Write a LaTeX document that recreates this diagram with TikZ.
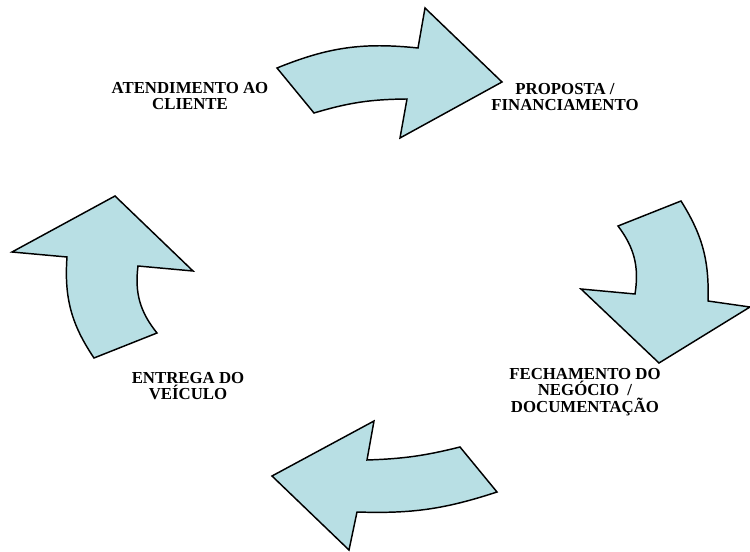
\documentclass[tikz,border=0pt]{standalone}
\usepackage{fontspec}
\setmainfont{Liberation Serif}
\usepackage{tikz}
\usepackage{xcolor}
\usetikzlibrary{positioning}
\definecolor{PaleCyan}{HTML}{B8DFE4}
\tikzset{
    blockarrow/.style={draw=black, fill=PaleCyan, line width=1.1pt, line join=miter},
    stagelabel/.style={align=center, inner sep=0pt,
                       font=\bfseries\fontsize{12.6}{12.6}\selectfont}
}

\begin{document}
\begin{tikzpicture}[x=0.75pt, y=-0.75pt]
    \useasboundingbox (0,0) rectangle (750,552);

    % Top arrow
    \draw[blockarrow] (277,68) to[bend left=14] (418,48) -- (425,8) -- (502,82)
        -- (400,138) -- (407,99) to[bend right=8] (314,113) -- cycle;
    % Right arrow
    \draw[blockarrow] (618,226) -- (681,201) to[bend left=17] (708,301) -- (750,307)
        -- (659,363) -- (581,289) -- (635,294) to[bend right=23] (618,226) -- cycle;
    % Bottom arrow
    \draw[blockarrow] (460,447) -- (497,492) to[bend left=10] (357,512) -- (349,550)
        -- (272,476) -- (374,421) -- (367,460) to[bend right=6] (460,447) -- cycle;
    % Left arrow
    \draw[blockarrow] (94,358) -- (157,333) to[bend left=23] (138,266) -- (193,271)
        -- (115,196) -- (12,252) -- (67,257) to[bend right=19] (94,358) -- cycle;

    % Stage labels
    \node[stagelabel] (atendimento) at (190,96) {ATENDIMENTO AO\\CLIENTE};
    \node[stagelabel] (proposta) at (565,97) {PROPOSTA /\\FINANCIAMENTO};
    \node[stagelabel] (fechamento) at (585,392) {FECHAMENTO DO\\NEGÓCIO \ /\\DOCUMENTAÇÃO};
    \node[stagelabel] (entrega) at (188,386) {ENTREGA DO\\VEÍCULO};
\end{tikzpicture}
\end{document}
